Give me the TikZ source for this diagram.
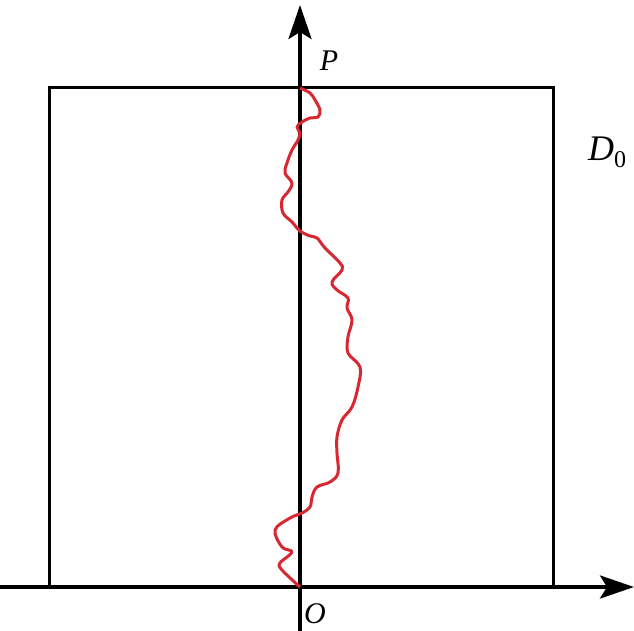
\documentclass[tikz,border=0pt]{standalone}
\usepackage{fontspec}
\setmainfont{Liberation Serif}
\usetikzlibrary{arrows.meta}
\definecolor{walkred}{RGB}{215,40,50}

\begin{document}
\begin{tikzpicture}[x=1pt, y=-1pt, axis/.style={line width=3.6pt, -{Stealth[length=34pt, width=23pt, inset=7pt]}}, region/.style={draw, line width=3pt, minimum width=504pt, minimum height=499pt, inner sep=0pt}, walk/.style={draw=walkred, line width=3pt, line join=round}, lbl/.style={font=\fontsize{30}{32}\selectfont\itshape}]
\useasboundingbox (0,0) rectangle (634,631);
\node[region] (D) at (301,337.5) {};
\coordinate (O) at (300,587);
\coordinate (left) at (0,587);
\coordinate (right) at (634,587);
\coordinate (bot) at (300,631);
\coordinate (top) at (300,5);
\draw[axis] (left)--(right);
\draw[axis] (bot)--(top);
\draw[walk] plot[smooth, tension=0.6] coordinates {(300,88) (310,93) (315,100) (320,110) (318,117) (310,118) (302,122) (297,127) (300,133) (298,140) (292,150) (287,163) (285,173) (292,183) (288,192) (282,200) (283,213) (292,222) (300,231) (310,236) (317,238) (325,248) (340,263) (342,270) (332,282) (337,290) (348,298) (347,308) (352,320) (348,337) (348,353) (360,367) (358,387) (352,407) (342,420) (337,437) (337,453) (338,473) (330,482) (317,487) (312,497) (310,507) (302,513) (290,518) (275,530) (282,547) (292,552) (280,563) (282,570) (300,587)};
\node[lbl] (labelP) at (329,61) {P};
\node[lbl] (labelO) at (315,614) {O};
\node[lbl, font=\fontsize{36}{38}\selectfont\itshape, anchor=west, inner sep=0pt] (labelD) at (588,152) {D\raisebox{-7pt}{\fontsize{24}{24}\selectfont\upshape 0}};
\end{tikzpicture}
\end{document}
